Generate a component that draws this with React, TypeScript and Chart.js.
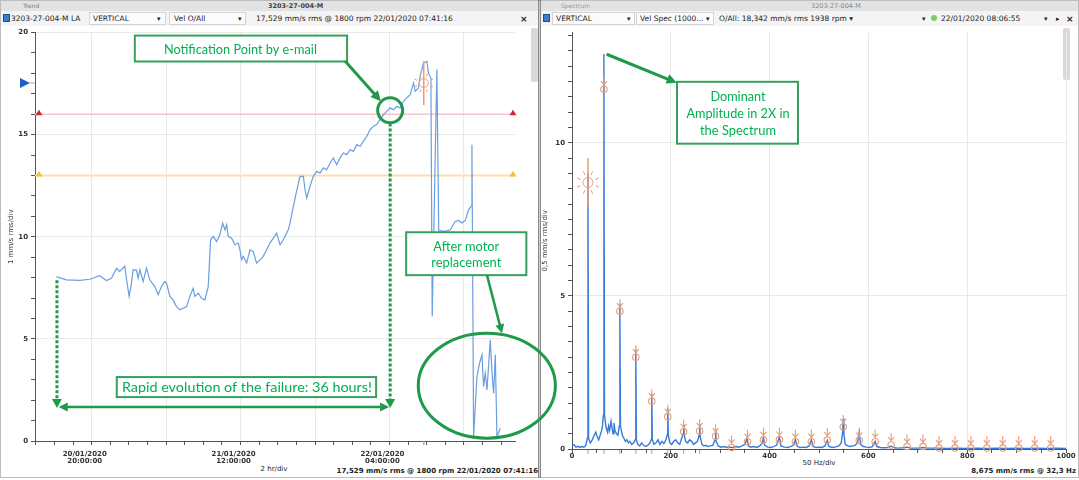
import React, { useEffect, useRef } from 'react';
import { Chart, registerables } from 'chart.js';
Chart.register(...registerables);

// ---------------- Trend (left) data: hours since 20/01/2020 00:00, mm/s rms
const trendHours = [
  16.2, 17.28, 18.71, 19.78, 20.86, 21.58, 22.12, 22.66, 23.01, 23.55, 23.8, 24.02, 24.27, 24.45, 24.81,
  24.99, 25.17, 25.53, 25.89, 26.24, 26.78, 27.14, 27.5, 27.86, 28.04, 28.4, 28.75, 29.11, 29.47, 29.83,
  30.19, 30.55, 30.9, 31.09, 31.45, 31.81, 32.16, 32.52, 32.78, 33.06, 33.42, 33.78, 34.07, 34.32, 34.5,
  34.67, 35.04, 35.39, 35.75, 35.93, 36.11, 36.29, 36.65, 37.01, 37.36, 37.72, 38.08, 38.44, 38.8, 39.16,
  39.52, 39.88, 40.24, 40.59, 41.13, 41.31, 41.67, 42.1, 42.39, 42.75, 42.93, 43.11, 43.47, 43.82, 44.18,
  44.54, 44.9, 45.26, 45.62, 45.97, 46.33, 46.69, 47.05, 47.41, 47.77, 48.13, 48.49, 48.85, 49.2, 49.57,
  49.92, 50.28, 50.64, 51.0, 51.36, 51.72, 52.08, 52.43, 52.8, 53.15, 53.51, 53.87, 54.23, 54.59, 54.77,
  55.12, 55.31, 55.66, 56.02, 56.2, 56.46, 56.6, 57.1, 57.3, 58.0, 58.54, 59.07, 59.43, 59.8, 60.15,
  60.51, 60.77, 60.87, 61.05, 61.41, 61.69, 61.95, 62.12, 62.3, 62.49, 62.84, 63.03, 63.2, 63.38, 63.56,
  63.92,
];
const trendValues = [
  8.05, 7.89, 7.86, 7.92, 8.09, 7.86, 7.97, 8.46, 8.3, 8.55, 7.73, 7.08, 7.73, 8.38, 8.37,
  7.97, 8.38, 7.81, 8.46, 7.89, 7.56, 7.16, 7.56, 7.81, 7.73, 7.08, 6.91, 6.58, 6.42, 6.5,
  6.58, 7.08, 7.48, 7.08, 7.24, 6.99, 6.91, 7.56, 9.85, 10.02, 9.77, 10.1, 10.67, 10.34, 10.59,
  10.02, 9.93, 9.61, 9.69, 9.36, 8.87, 9.04, 8.71, 9.36, 9.28, 8.71, 8.87, 9.04, 9.36, 9.69,
  9.93, 10.18, 9.61, 9.85, 10.34, 10.67, 11.49, 12.39, 12.96, 12.96, 12.3, 11.9, 12.47, 12.96, 13.2,
  13.12, 13.37, 13.28, 13.61, 13.86, 13.53, 13.86, 14.1, 14.02, 14.26, 14.18, 14.51, 14.43, 14.67, 14.92,
  15.25, 15.41, 15.49, 15.74, 15.98, 16.14, 16.31, 16.22, 16.39, 16.31, 16.63, 16.8, 16.96, 17.53, 17.12,
  17.29, 17.86, 18.51, 18.59, 18.02, 17.77, 6.1, 18.19, 10.3, 10.26, 10.34, 10.75, 10.8, 10.67, 10.8,
  11.32, 11.49, 14.51, 0.21, 3.15, 3.81, 4.22, 2.66, 3.32, 2.5, 4.95, 3.32, 2.34, 4.22, 0.21,
  0.62,
];
const alarmLevel = 16;
const alertLevel = 13;
const cursorHour = 55.69;
const cursorValue = 17.529;
const trendXMin = 13.9;
const trendXMax = 65.5;
const trendXTicks = [14, 16, 18, 20, 22, 24, 26, 28, 30, 32, 34, 36, 38, 40, 42, 44, 46, 48, 50, 52, 54, 56, 58, 60, 62, 64];
const trendXMajorTicks = [20, 28, 36, 44, 52, 60];
const trendXLabelTicks = [20, 36, 52];
const trendXLabels = [['20/01/2020', '20:00:00'], ['21/01/2020', '12:00:00'], ['22/01/2020', '04:00:00']];
const trendYTicks = [0, 1, 2, 3, 4, 5, 6, 7, 8, 9, 10, 11, 12, 13, 14, 15, 16, 17, 18, 19, 20];
const trendYLabelTicks = [0, 5, 10, 15, 20];

// ---------------- Spectrum (right) data: Hz, mm/s rms
const specFreq = [
  0, 4, 8, 12, 16, 20, 24, 28, 31, 32.3, 33.6, 37, 41, 45, 48, 51, 54, 57, 60, 62,
  63.4, 64.6, 65.8, 67, 69, 72, 74, 76, 79, 81, 83, 85, 87, 90, 93, 95.7, 96.9, 98.1, 100, 102,
  105, 108, 111, 114, 117, 121, 125, 128, 129.2, 130.4, 133, 137, 141, 145, 149, 153, 157, 160.3, 161.5, 162.7,
  166, 170, 174, 178, 182, 186, 190, 192.6, 193.8, 195, 198, 202, 206, 210, 214, 218, 222, 225, 226.1, 227.2,
  230, 234, 238, 242, 246, 250, 254, 257.3, 258.4, 259.5, 263, 267, 271, 275, 280, 285, 289.6, 290.7, 291.8, 296,
  302, 308, 314, 320, 326, 332, 338, 344, 350, 354.4, 357, 362, 368, 374, 380, 385, 387.6, 390, 396, 402,
  408, 414, 419.9, 423, 430, 436, 442, 448, 452.2, 456, 462, 468, 474, 480, 484.5, 488, 494, 500, 506, 512,
  516.8, 520, 527, 534, 540, 545, 547.9, 549.1, 550.3, 553, 558, 563, 568, 573, 578, 581.4, 584, 590, 596, 602,
  608, 613.7, 617, 624, 632, 640, 646, 652, 660, 670, 678, 686, 700, 710.6, 720, 740, 760, 780, 800, 820,
  840, 860, 880, 900, 920, 940, 960, 980, 1000,
];
const specAmp = [
  0.1, 0.14, 0.06, 0.09, 0.05, 0.08, 0.06, 0.12, 0.35, 9.0, 0.35, 0.2, 0.3, 0.45, 0.55, 0.4, 0.3, 0.45, 0.6, 0.8,
  1.1, 12.9, 1.1, 0.95, 0.7, 0.55, 0.75, 0.6, 0.9, 0.7, 0.5, 0.85, 0.6, 0.5, 0.45, 0.75, 4.75, 0.75, 0.6, 0.45,
  0.35, 0.25, 0.3, 0.2, 0.25, 0.15, 0.2, 0.3, 3.25, 0.3, 0.15, 0.1, 0.2, 0.12, 0.08, 0.12, 0.18, 0.3, 1.8, 0.3,
  0.15, 0.2, 0.3, 0.15, 0.25, 0.18, 0.3, 0.45, 1.35, 0.45, 0.2, 0.15, 0.25, 0.3, 0.2, 0.15, 0.35, 0.5, 0.8, 0.45,
  0.25, 0.2, 0.3, 0.25, 0.15, 0.2, 0.25, 0.45, 0.82, 0.4, 0.15, 0.1, 0.12, 0.08, 0.1, 0.12, 0.3, 0.65, 0.25, 0.1,
  0.06, 0.08, 0.05, 0.06, 0.05, 0.08, 0.06, 0.1, 0.15, 0.35, 0.1, 0.06, 0.08, 0.05, 0.1, 0.18, 0.38, 0.12, 0.06, 0.05,
  0.08, 0.12, 0.4, 0.1, 0.06, 0.05, 0.08, 0.12, 0.3, 0.08, 0.05, 0.06, 0.05, 0.1, 0.3, 0.08, 0.05, 0.06, 0.05, 0.1,
  0.28, 0.08, 0.05, 0.07, 0.1, 0.2, 0.55, 1.0, 0.5, 0.15, 0.1, 0.08, 0.1, 0.12, 0.2, 0.55, 0.15, 0.08, 0.06, 0.05,
  0.08, 0.25, 0.08, 0.05, 0.04, 0.05, 0.1, 0.04, 0.03, 0.04, 0.06, 0.03, 0.03, 0.05, 0.03, 0.03, 0.02, 0.03, 0.02, 0.03,
  0.02, 0.03, 0.02, 0.03, 0.02, 0.03, 0.02, 0.03, 0.02,
];
const harmonicFreq = [
  32.3, 64.6, 96.9, 129.2, 161.5, 193.8, 226.1, 258.4, 290.7, 323.0, 355.3, 387.6, 419.9, 452.2, 484.5,
  516.8, 549.1, 581.4, 613.7, 646.0, 678.3, 710.6, 742.9, 775.2, 807.5, 839.8, 872.1, 904.4, 936.7, 969.0,
];
const harmonicAmp = [
  8.7, 11.75, 4.5, 3.0, 1.56, 1.05, 0.56, 0.59, 0.42, 0.05, 0.24, 0.3, 0.31, 0.24, 0.24,
  0.29, 0.72, 0.28, 0.24, 0.13, 0.08, 0.08, 0.03, 0.03, 0.03, 0.03, 0.03, 0.03, 0.03, 0.03,
];
const specXTicks = [0, 50, 100, 150, 200, 250, 300, 350, 400, 450, 500, 550, 600, 650, 700, 750, 800, 850, 900, 950, 1000];
const specXLabelTicks = [0, 200, 400, 600, 800, 1000];
const specYTicks = [0, 0.5, 1, 1.5, 2, 2.5, 3, 3.5, 4, 4.5, 5, 5.5, 6, 6.5, 7, 7.5, 8, 8.5, 9, 9.5, 10, 10.5, 11, 11.5, 12, 12.5, 13, 13.5];
const specYLabelTicks = [0, 5, 10];
const specYMax = 13.6;

// ---------------- styles
const GREEN_LINE = '#1f9a4a';
const GREEN_BOX = '#36a05a';
const GREEN_TEXT = '#00b050';
const ORANGE = '#eb9b74';
const TICK_FONT = { family: "'DejaVu Sans', sans-serif", size: 7, weight: 'bold' as const, lineHeight: 1 };
const UI = "'DejaVu Sans', sans-serif";

function arrowHead(ctx: CanvasRenderingContext2D, x0: number, y0: number, x1: number, y1: number, len: number, half: number) {
  const a = Math.atan2(y1 - y0, x1 - x0);
  ctx.beginPath();
  ctx.moveTo(x1, y1);
  ctx.lineTo(x1 - len * Math.cos(a) + half * Math.sin(a), y1 - len * Math.sin(a) - half * Math.cos(a));
  ctx.lineTo(x1 - len * Math.cos(a) - half * Math.sin(a), y1 - len * Math.sin(a) + half * Math.cos(a));
  ctx.closePath();
  ctx.fill();
}

function arrow(ctx: CanvasRenderingContext2D, x0: number, y0: number, x1: number, y1: number, lw: number, len: number, half: number, dash?: number[]) {
  const a = Math.atan2(y1 - y0, x1 - x0);
  ctx.save();
  ctx.strokeStyle = GREEN_LINE;
  ctx.fillStyle = GREEN_LINE;
  ctx.lineWidth = lw;
  if (dash) ctx.setLineDash(dash);
  ctx.beginPath();
  ctx.moveTo(x0, y0);
  ctx.lineTo(x1 - (len - 1) * Math.cos(a), y1 - (len - 1) * Math.sin(a));
  ctx.stroke();
  ctx.setLineDash([]);
  arrowHead(ctx, x0, y0, x1, y1, len, half);
  ctx.restore();
}

function fitText(ctx: CanvasRenderingContext2D, text: string, cx: number, by: number, w: number) {
  ctx.save();
  ctx.font = "13px Lato, 'Noto Sans', sans-serif";
  const m = ctx.measureText(text).width;
  ctx.translate(cx, by);
  ctx.scale(w / m, 1);
  ctx.fillStyle = GREEN_TEXT;
  ctx.textAlign = 'center';
  ctx.textBaseline = 'alphabetic';
  ctx.fillText(text, 0, 0);
  ctx.restore();
}

function box(ctx: CanvasRenderingContext2D, x0: number, y0: number, x1: number, y1: number) {
  ctx.save();
  ctx.fillStyle = '#ffffff';
  ctx.strokeStyle = GREEN_BOX;
  ctx.lineWidth = 2;
  ctx.fillRect(x0, y0, x1 - x0, y1 - y0);
  ctx.strokeRect(x0, y0, x1 - x0, y1 - y0);
  ctx.restore();
}

function star(ctx: CanvasRenderingContext2D, x: number, y: number, r: number, ray0: number, ray1: number) {
  ctx.save();
  ctx.strokeStyle = ORANGE;
  ctx.lineWidth = 1;
  ctx.beginPath();
  ctx.arc(x, y, r, 0, Math.PI * 2);
  ctx.stroke();
  for (let k = 0; k < 8; k++) {
    const a = (Math.PI / 4) * k + Math.PI / 8;
    ctx.beginPath();
    ctx.moveTo(x + ray0 * Math.cos(a), y + ray0 * Math.sin(a));
    ctx.lineTo(x + ray1 * Math.cos(a), y + ray1 * Math.sin(a));
    ctx.stroke();
  }
  ctx.restore();
}

// annotation anchors, in data units of each chart
const trendNote = { h0: 24.63, h1: 47.45, v0: 19.85, v1: 18.58, th: 35.98, tv: 18.96 };
const trendNoteArrow = { h0: 47.23, v0: 18.6, h1: 51.08, v1: 16.64 };
const notifyPoint = { h: 52.08, v: 16.19 };
const spanLeft = { h: 16.26, vTop: 7.87 };
const spanRight = { h: 52.08, vTop: 15.55 };
const spanBottom = 1.61;
const spanArrow = { h0: 16.45, h1: 51.97, v: 1.66 };
const rapidBox = { h0: 22.69, h1: 50.57, v0: 3.13, v1: 2.15, th: 36.68, tv: 2.4 };
const motorBox = { h0: 53.8, h1: 66.72, v0: 10.22, v1: 8.12, th: 60.26, tv1: 9.29, tv2: 8.51 };
const motorArrow = { h0: 62.49, v0: 8.12, h1: 64.1, v1: 5.27 };
const motorEllipse = { h: 62.47, v: 2.71, dh: 7.37, dv: 2.57 };
const specNote = { f0: 212.6, f1: 457.5, v0: 11.99, v1: 9.97, tf: 336, tv: [11.37, 10.81, 10.26] };
const specArrow = { f0: 70.2, v0: 12.89, f1: 211.9, v1: 11.96 };

const trendPlugin = {
  id: 'trendAnn',
  afterDatasetsDraw(chart: any) {
    const { ctx, chartArea } = chart;
    const X = (v: number) => chart.scales.x.getPixelForValue(v);
    const Y = (v: number) => chart.scales.y.getPixelForValue(v);
    ctx.save();
    const tri = (x: number, y: number, color: string) => {
      ctx.fillStyle = color;
      ctx.beginPath();
      ctx.moveTo(x - 3.5, y + 1);
      ctx.lineTo(x + 3.5, y + 1);
      ctx.lineTo(x, y - 4.5);
      ctx.closePath();
      ctx.fill();
    };
    tri(chartArea.left + 4, Y(alarmLevel), '#d42535');
    tri(chartArea.right - 2, Y(alarmLevel), '#d42535');
    tri(chartArea.left + 4, Y(alertLevel), '#f1c232');
    tri(chartArea.right - 2, Y(alertLevel), '#f1c232');
    const yc = Y(cursorValue);
    ctx.fillStyle = '#1f5fc4';
    ctx.beginPath();
    ctx.moveTo(chartArea.left - 15, yc - 5);
    ctx.lineTo(chartArea.left - 5, yc);
    ctx.lineTo(chartArea.left - 15, yc + 5);
    ctx.closePath();
    ctx.fill();
    ctx.strokeStyle = ORANGE;
    ctx.lineWidth = 1;
    ctx.beginPath();
    ctx.moveTo(chartArea.left - 5, yc);
    ctx.lineTo(chartArea.left, yc);
    ctx.stroke();
    const xc = X(cursorHour);
    ctx.strokeStyle = ORANGE;
    ctx.lineWidth = 1.5;
    ctx.beginPath();
    ctx.moveTo(xc, Y(18.6));
    ctx.lineTo(xc, Y(16.45));
    ctx.stroke();
    ctx.beginPath();
    ctx.moveTo(xc, chartArea.bottom);
    ctx.lineTo(xc, chartArea.bottom + 4);
    ctx.stroke();
    ctx.restore();
    star(ctx, xc, yc, 4.5, 7, 10);
  },
  afterDraw(chart: any) {
    const { ctx } = chart;
    const X = (v: number) => chart.scales.x.getPixelForValue(v);
    const Y = (v: number) => chart.scales.y.getPixelForValue(v);
    box(ctx, X(trendNote.h0), Y(trendNote.v0), X(trendNote.h1), Y(trendNote.v1));
    fitText(ctx, 'Notification Point by e-mail', X(trendNote.th), Y(trendNote.tv), 153);
    arrow(ctx, X(trendNoteArrow.h0), Y(trendNoteArrow.v0), X(trendNoteArrow.h1), Y(trendNoteArrow.v1), 3, 10, 5);
    ctx.save();
    ctx.strokeStyle = GREEN_LINE;
    ctx.lineWidth = 3;
    ctx.beginPath();
    ctx.arc(X(notifyPoint.h), Y(notifyPoint.v), 12.5, 0, Math.PI * 2);
    ctx.stroke();
    ctx.restore();
    arrow(ctx, X(spanRight.h), Y(spanRight.vTop), X(spanRight.h), Y(spanBottom), 3, 9, 5, [3, 2]);
    arrow(ctx, X(spanLeft.h), Y(spanLeft.vTop), X(spanLeft.h), Y(spanBottom), 3, 9, 5, [3, 2]);
    const sy = Y(spanArrow.v);
    const sx0 = X(spanArrow.h0);
    const sx1 = X(spanArrow.h1);
    const mid = (sx0 + sx1) / 2;
    arrow(ctx, mid, sy, sx1, sy, 2.5, 9, 4.5);
    arrow(ctx, mid, sy, sx0, sy, 2.5, 9, 4.5);
    box(ctx, X(rapidBox.h0), Y(rapidBox.v0), X(rapidBox.h1), Y(rapidBox.v1));
    fitText(ctx, 'Rapid evolution of the failure: 36 hours!', X(rapidBox.th), Y(rapidBox.tv), 250);
    box(ctx, X(motorBox.h0), Y(motorBox.v0), X(motorBox.h1), Y(motorBox.v1));
    fitText(ctx, 'After motor', X(motorBox.th), Y(motorBox.tv1), 66);
    fitText(ctx, 'replacement', X(motorBox.th), Y(motorBox.tv2), 70);
    arrow(ctx, X(motorArrow.h0), Y(motorArrow.v0), X(motorArrow.h1), Y(motorArrow.v1), 2.5, 9, 4.5);
    const ex = X(motorEllipse.h);
    const ey = Y(motorEllipse.v);
    ctx.save();
    ctx.strokeStyle = GREEN_LINE;
    ctx.lineWidth = 3;
    ctx.beginPath();
    ctx.ellipse(ex, ey, X(motorEllipse.h + motorEllipse.dh) - ex, ey - Y(motorEllipse.v + motorEllipse.dv), 0, 0, Math.PI * 2);
    ctx.stroke();
    ctx.restore();
  },
};

const specPlugin = {
  id: 'specAnn',
  afterDatasetsDraw(chart: any) {
    const { ctx, chartArea } = chart;
    const X = (v: number) => chart.scales.x.getPixelForValue(v);
    const Y = (v: number) => chart.scales.y.getPixelForValue(v);
    ctx.save();
    ctx.strokeStyle = ORANGE;
    ctx.lineWidth = 1.1;
    harmonicFreq.forEach((f, i) => {
      const x = X(f);
      const y = Y(harmonicAmp[i]);
      if (i < 8) {
        ctx.beginPath();
        ctx.moveTo(x, chartArea.bottom + 1);
        ctx.lineTo(x, chartArea.bottom + 5);
        ctx.stroke();
      }
      if (i === 0) return;
      ctx.beginPath();
      ctx.arc(x, y, 3.2, 0, Math.PI * 2);
      ctx.stroke();
      ctx.beginPath();
      ctx.moveTo(x, y - 3.2);
      ctx.lineTo(x, y - 12);
      ctx.moveTo(x - 3, y - 8);
      ctx.lineTo(x, y - 4.5);
      ctx.lineTo(x + 3, y - 8);
      ctx.stroke();
    });
    const x1 = X(harmonicFreq[0]);
    ctx.lineWidth = 1.5;
    ctx.beginPath();
    ctx.moveTo(x1, Y(9.5));
    ctx.lineTo(x1, Y(7.9));
    ctx.stroke();
    ctx.restore();
    star(ctx, x1, Y(harmonicAmp[0]), 5, 8, 12);
  },
  afterDraw(chart: any) {
    const { ctx } = chart;
    const X = (v: number) => chart.scales.x.getPixelForValue(v);
    const Y = (v: number) => chart.scales.y.getPixelForValue(v);
    arrow(ctx, X(specArrow.f0), Y(specArrow.v0), X(specArrow.f1), Y(specArrow.v1), 3, 10, 5);
    box(ctx, X(specNote.f0), Y(specNote.v0), X(specNote.f1), Y(specNote.v1));
    fitText(ctx, 'Dominant', X(specNote.tf), Y(specNote.tv[0]), 55);
    fitText(ctx, 'Amplitude in 2X in', X(specNote.tf), Y(specNote.tv[1]), 103);
    fitText(ctx, 'the Spectrum', X(specNote.tf), Y(specNote.tv[2]), 76);
  },
};

function axisX(min: number, max: number, ticks: number[], major: number[], label: (v: number) => any, height: number, pad: number, labelOffset: number) {
  return {
    type: 'linear' as const,
    min,
    max,
    afterBuildTicks: (s: any) => { s.ticks = ticks.map((v) => ({ value: v })); },
    afterFit: (s: any) => { s.height = height; },
    grid: {
      color: (c: any) => (c.tick && major.includes(c.tick.value) ? '#e9e9e9' : 'rgba(0,0,0,0)'),
      tickColor: '#555',
      tickLength: 4,
      lineWidth: 1,
    },
    border: { color: '#555', width: 1 },
    ticks: { autoSkip: false, maxRotation: 0, padding: pad, labelOffset, color: '#333', font: TICK_FONT, callback: label },
  };
}

function axisY(max: number, ticks: number[], major: number[], title: string, width: number, titlePad: number) {
  return {
    type: 'linear' as const,
    min: 0,
    max,
    afterBuildTicks: (s: any) => { s.ticks = ticks.map((v) => ({ value: v })); },
    afterFit: (s: any) => { s.width = width; },
    grid: {
      color: (c: any) => (c.tick && major.includes(c.tick.value) && c.tick.value > 0 ? '#e9e9e9' : 'rgba(0,0,0,0)'),
      tickColor: '#555',
      tickLength: 4,
      lineWidth: 1,
    },
    border: { color: '#555', width: 1 },
    ticks: {
      autoSkip: false,
      padding: 3,
      color: '#333',
      font: TICK_FONT,
      callback: (v: number) => (major.includes(v) ? String(v) : ''),
    },
    title: {
      display: true,
      text: title,
      color: '#333',
      font: { family: "'DejaVu Sans', sans-serif", size: 7, lineHeight: 1 },
      padding: { top: titlePad, bottom: 0 },
    },
  };
}

function Txt(p: { x: number; y: number; s?: number; b?: boolean; c?: string; a?: 'l' | 'c' | 'r'; children: any }) {
  const tx = p.a === 'c' ? '-50%' : p.a === 'r' ? '-100%' : '0';
  return (
    <div
      style={{
        position: 'absolute',
        left: p.x,
        top: p.y,
        transform: `translate(${tx},-50%)`,
        fontFamily: UI,
        fontSize: p.s ?? 7.5,
        fontWeight: p.b ? 'bold' : 'normal',
        color: p.c ?? '#222',
        whiteSpace: 'nowrap',
        lineHeight: 1,
      }}
    >
      {p.children}
    </div>
  );
}

function Rect(p: { x: number; y: number; w: number; h: number; bg: string; border?: string; r?: number }) {
  return (
    <div
      style={{
        position: 'absolute',
        left: p.x,
        top: p.y,
        width: p.w,
        height: p.h,
        background: p.bg,
        border: p.border,
        borderRadius: p.r ?? 0,
        boxSizing: 'border-box',
      }}
    />
  );
}

export default function App() {
  const leftRef = useRef<HTMLCanvasElement>(null);
  const rightRef = useRef<HTMLCanvasElement>(null);

  useEffect(() => {
    const trend = new Chart(leftRef.current as HTMLCanvasElement, {
      type: 'line',
      data: {
        datasets: [
          {
            data: trendHours.map((h, i) => ({ x: h, y: trendValues[i] })),
            borderColor: '#6a9de2',
            borderWidth: 1.2,
            pointRadius: 0,
            tension: 0,
          },
          {
            data: [{ x: trendXMin, y: alarmLevel }, { x: trendXMax, y: alarmLevel }],
            borderColor: '#f2c6cb',
            borderWidth: 1.5,
            pointRadius: 0,
          },
          {
            data: [{ x: trendXMin, y: alertLevel }, { x: trendXMax, y: alertLevel }],
            borderColor: '#fde0a6',
            borderWidth: 2,
            pointRadius: 0,
          },
        ],
      },
      options: {
        animation: false,
        responsive: false,
        devicePixelRatio: 1,
        layout: { padding: { top: 6, right: 45, left: 0, bottom: 0 } },
        plugins: { legend: { display: false }, tooltip: { enabled: false } },
        scales: {
          x: axisX(trendXMin, trendXMax, trendXTicks, trendXMajorTicks, (v: number) => {
            const i = trendXLabelTicks.indexOf(v);
            return i >= 0 ? trendXLabels[i] : '';
          }, 37, 6, -7),
          y: axisY(20, trendYTicks, trendYLabelTicks, '1 mm/s rms/div', 35, 8),
        },
      } as any,
      plugins: [trendPlugin],
    });

    const spec = new Chart(rightRef.current as HTMLCanvasElement, {
      type: 'line',
      data: {
        datasets: [
          {
            data: specFreq.map((f, i) => ({ x: f, y: specAmp[i] })),
            borderColor: '#3a7bd8',
            borderWidth: 1.4,
            pointRadius: 0,
            tension: 0,
          },
        ],
      },
      options: {
        animation: false,
        responsive: false,
        devicePixelRatio: 1,
        layout: { padding: { top: 5, right: 13, left: 0, bottom: 0 } },
        plugins: { legend: { display: false }, tooltip: { enabled: false } },
        scales: {
          x: axisX(0, 1000, specXTicks, specXLabelTicks, (v: number) => (specXLabelTicks.includes(v) ? String(v) : ''), 29, 0, 0),
          y: axisY(specYMax, specYTicks, specYLabelTicks, '0,5 mm/s rms/div', 31, 1),
        },
      } as any,
      plugins: [specPlugin],
    });

    return () => {
      trend.destroy();
      spec.destroy();
    };
  }, []);

  return (
    <div style={{ position: 'absolute', left: 0, top: 0, width: 1079, height: 480, background: '#fff', overflow: 'hidden' }}>
      <Rect x={0} y={0} w={539} h={11} bg="#e3e3e3" />
      <Txt x={23} y={5.5} s={6} c="#777">Trend</Txt>
      <Txt x={268} y={5.5} s={6.5} b c="#444">3203-27-004-M</Txt>
      <Rect x={0} y={11} w={539} h={15} bg="#f4f4f4" />
      <Rect x={3} y={14} w={7} h={8} bg="#3d7bd0" border="1px solid #1d4f91" />
      <Txt x={11} y={18.5}>3203-27-004-M LA</Txt>
      <Rect x={89} y={12} w={77} h={13} bg="#fbfbfb" border="1px solid #d4d4d4" />
      <Txt x={93} y={18.5}>VERTICAL</Txt>
      <Txt x={157} y={18.5} s={7}>▾</Txt>
      <Rect x={169} y={12} w={77} h={13} bg="#fbfbfb" border="1px solid #d4d4d4" />
      <Txt x={174} y={18.5}>Vel O/All</Txt>
      <Txt x={238} y={18.5} s={7}>▾</Txt>
      <Txt x={256} y={18.5}>17,529 mm/s rms @ 1800 rpm 22/01/2020 07:41:16</Txt>
      <Txt x={520} y={18.5} s={9} b>×</Txt>
      <Rect x={531} y={28} w={7} h={54} bg="#d9d9d9" r={2} />
      <Txt x={274} y={469} s={7} a="c">2 hr/div</Txt>
      <Txt x={538} y={471} s={7} b a="r">17,529 mm/s rms @ 1800 rpm 22/01/2020 07:41:16</Txt>

      <Rect x={541} y={0} w={538} h={11} bg="#e3e3e3" />
      <Txt x={561} y={5.5} s={6} c="#999">Spectrum</Txt>
      <Txt x={811} y={5.5} s={6.5} c="#888">3203-27-004-M</Txt>
      <Rect x={541} y={11} w={538} h={15} bg="#f4f4f4" />
      <Rect x={543} y={14} w={7} h={8} bg="#3d7bd0" border="1px solid #1d4f91" />
      <Rect x={552} y={12} w={83} h={13} bg="#fbfbfb" border="1px solid #d4d4d4" />
      <Txt x={556} y={18.5}>VERTICAL</Txt>
      <Txt x={627} y={18.5} s={7}>▾</Txt>
      <Rect x={636} y={12} w={78} h={13} bg="#fbfbfb" border="1px solid #d4d4d4" />
      <Txt x={640} y={18.5}>Vel Spec (1000...</Txt>
      <Txt x={706} y={18.5} s={7}>▾</Txt>
      <Txt x={719} y={18.5}>O/All: 18,342 mm/s rms  1938 rpm ▾</Txt>
      <Txt x={922} y={18.5} s={7}>▾</Txt>
      <Rect x={931} y={15} w={6} h={6} bg="#7ccf6a" r={3} />
      <Txt x={941} y={18.5}>22/01/2020 08:06:55</Txt>
      <Txt x={1044} y={18.5} s={7}>▾</Txt>
      <Txt x={1056} y={18.5} s={7}>▸</Txt>
      <Txt x={1066} y={18.5} s={9} b>×</Txt>
      <Rect x={1063} y={28} w={7} h={52} bg="#d9d9d9" r={2} />
      <Txt x={819} y={463} s={7} a="c">50 Hz/div</Txt>
      <Txt x={1076} y={471} s={7} b a="r">8,675 mm/s rms @ 32,3 Hz</Txt>

      <Rect x={0} y={0} w={1079} h={478} bg="transparent" border="1px solid #bdbdbd" />
      <Rect x={538} y={0} w={3} h={478} bg="#d0d0d0" border="1px solid #8a8a8a" />

      <canvas
        ref={rightRef}
        width={538}
        height={452}
        style={{ position: 'absolute', left: 541, top: 26, width: 538, height: 452, zIndex: 1 }}
      />
      <canvas
        ref={leftRef}
        width={560}
        height={452}
        style={{ position: 'absolute', left: 0, top: 26, width: 560, height: 452, zIndex: 2 }}
      />
    </div>
  );
}
